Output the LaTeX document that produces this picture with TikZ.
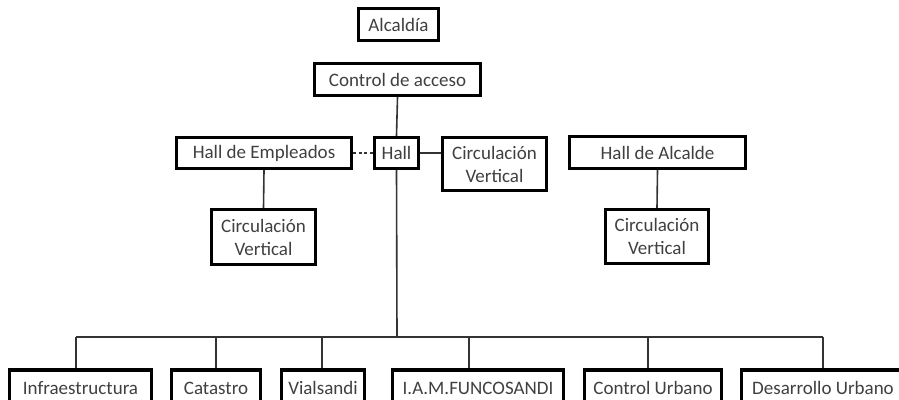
\documentclass[tikz,border=0pt]{standalone}
\usepackage{fontspec}
\setmainfont{Carlito}
\begin{document}
\begin{tikzpicture}[x=1pt,y=-1pt,
    caja/.style={draw, line width=3.4pt, fill=white, text=black!75, inner sep=0pt,
      align=center, font=\fontsize{19}{23}\selectfont},
    linea/.style={line width=1.6pt, black!80}]
    \clip (0,0) rectangle (899,399);

    % parte superior
    \node[caja, minimum width=80pt, minimum height=32pt] (alcaldia) at (398.5,24.5) {Alcaldía};
    \node[caja, minimum width=166pt, minimum height=32pt] (acceso) at (397.5,79.5) {Control de acceso};

    % halls
    \node[caja, minimum width=175pt, minimum height=31pt] (hallemp) at (264,153) {Hall de Empleados};
    \node[caja, minimum width=44pt, minimum height=31pt] (hall) at (396.5,153) {Hall};
    \node[caja, minimum width=104pt, minimum height=53pt] (circcentro) at (494.5,164) {Circulación\\Vertical};
    \node[caja, minimum width=176pt, minimum height=32pt] (hallalc) at (657.5,152.5) {Hall de Alcalde};

    \node[caja, minimum width=104pt, minimum height=55pt] (circemp) at (263.5,237) {Circulación\\Vertical};
    \node[caja, minimum width=103pt, minimum height=54pt] (circalc) at (657,236.5) {Circulación\\Vertical};

    % dependencias
    \node[caja, minimum width=142pt, minimum height=36pt] (infra) at (80.5,388) {Infraestructura};
    \node[caja, minimum width=89pt, minimum height=36pt] (catastro) at (216,388) {Catastro};
    \node[caja, minimum width=83pt, minimum height=36pt] (vial) at (323,388) {Vialsandi};
    \node[caja, minimum width=171pt, minimum height=36pt] (iam) at (478,388) {I.A.M.FUNCOSANDI};
    \node[caja, minimum width=137pt, minimum height=36pt] (urbano) at (653,388) {Control Urbano};
    \node[caja, minimum width=163pt, minimum height=36pt] (desarrollo) at (823,388) {Desarrollo Urbano};

    % conectores
    \draw[linea] (acceso.south) -- (hall.north);
    \draw[linea, dash pattern=on 3pt off 2.5pt] (hallemp.east) -- (hall.west);
    \draw[linea] (hall.east) -- (circcentro.west |- hall.east);
    \draw[linea] (hallemp.south) -- (circemp.north);
    \draw[linea] (hallalc.south) -- (circalc.north);

    \coordinate (bus) at (397,337);
    \coordinate (b1) at (76,337);
    \coordinate (b2) at (216,337);
    \coordinate (b3) at (322,337);
    \coordinate (b4) at (469,337);
    \coordinate (b5) at (648,337);
    \coordinate (b6) at (823,337);
    \draw[linea] (hall.south) -- (bus);
    \draw[linea] (b1) -- (b6);
    \draw[linea] (b1) -- (b1 |- infra.north);
    \draw[linea] (b2) -- (b2 |- catastro.north);
    \draw[linea] (b3) -- (b3 |- vial.north);
    \draw[linea] (b4) -- (b4 |- iam.north);
    \draw[linea] (b5) -- (b5 |- urbano.north);
    \draw[linea] (b6) -- (b6 |- desarrollo.north);
\end{tikzpicture}
\end{document}
